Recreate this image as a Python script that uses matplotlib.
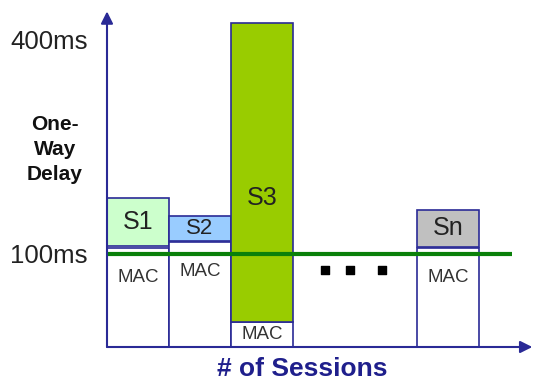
import matplotlib
matplotlib.use("Agg")
import matplotlib.pyplot as plt
from matplotlib.patches import Rectangle

plt.rcParams["font.family"] = ["Liberation Sans", "DejaVu Sans"]

# schematic data, delay in ms (axis origin sits a bit below 0 in the drawing)
SESSIONS = ["S1", "S2", "S3", "Sn"]
SLOTS = [0, 1, 2, 5]              # slot index along "# of Sessions"
MAC_TOP = [108, 117, 5, 108]      # MAC delay part
SESSION_BOTTOM = [111, 118, 5, 110]
SESSION_TOP = [178, 153, 424, 162]
FILLS = ["#ccffcc", "#99ccff", "#99cc00", "#c0c0c0"]
LABEL_SIZES = [18, 16, 18, 18]
THRESHOLD = 100
YTICKS = [100, 400]
YTICK_LABELS = ["100ms", "400ms"]
DOTS_X = [3.52, 3.92, 4.44]
DOTS_Y = 78

NAVY = "#2a2a96"
GREEN = "#0a800a"
BASE = -30.4
YTOP = 456.0
XMAX = 428 / 62

fig = plt.figure(figsize=(5.35, 3.81), dpi=100)
ax = fig.add_axes([107 / 535, 34 / 381, 428 / 535, 347 / 381])
ax.set_xlim(0, XMAX)
ax.set_ylim(BASE, YTOP)
ax.axis("off")

for name, x, mac, sb, st, fc, fs in zip(SESSIONS, SLOTS, MAC_TOP, SESSION_BOTTOM,
                                         SESSION_TOP, FILLS, LABEL_SIZES):
    ax.add_patch(Rectangle((x, BASE), 1, mac - BASE, facecolor="white",
                           edgecolor=NAVY, lw=1.2, zorder=2))
    ax.add_patch(Rectangle((x, sb), 1, st - sb, facecolor=fc,
                           edgecolor=NAVY, lw=1.2, zorder=2))
    h = st - sb
    ax.text(x + 0.5, sb + min(h / 2, 174), name, ha="center", va="center",
            fontsize=fs, color="#222222", zorder=3)
    mac_h = mac - BASE
    if mac_h < 60:
        ax.text(x + 0.5, BASE + mac_h / 2, "MAC", ha="center", va="center",
                fontsize=13.5, color="#333333", zorder=3)
    else:
        ax.text(x + 0.5, mac - 29, "MAC", ha="center", va="top",
                fontsize=13.5, color="#333333", zorder=3)

# threshold line
ax.plot([0, 6.53], [THRESHOLD, THRESHOLD], color=GREEN, lw=3, zorder=4,
        solid_capstyle="butt")

# ellipsis squares
ax.scatter(DOTS_X, [DOTS_Y] * len(DOTS_X), marker="s", s=40, color="black",
           zorder=4)

# axes with arrows
arrow = dict(arrowstyle="-|>", color=NAVY, lw=1.5, mutation_scale=18,
             shrinkA=0, shrinkB=0)
ax.annotate("", xy=(0, 440), xytext=(0, BASE), arrowprops=arrow,
            annotation_clip=False, zorder=5)
ax.annotate("", xy=(6.86, BASE), xytext=(0, BASE), arrowprops=arrow,
            annotation_clip=False, zorder=5)

for v, lab in zip(YTICKS, YTICK_LABELS):
    ax.text(-0.31, v - 3, lab, ha="right", va="center",
            fontsize=18.5, color="#222222", clip_on=False)

ax.text(-0.84, 246, "One-\nWay\nDelay", ha="center", va="center",
        fontsize=15, fontweight="bold", color="#111111", linespacing=1.4,
        clip_on=False)

fig.text(302 / 535, 1 - 369 / 381, "# of Sessions", ha="center", va="center",
         fontsize=19, fontweight="bold", color="#1f1f8c")

fig.savefig("out.png", dpi=100, facecolor="white")
